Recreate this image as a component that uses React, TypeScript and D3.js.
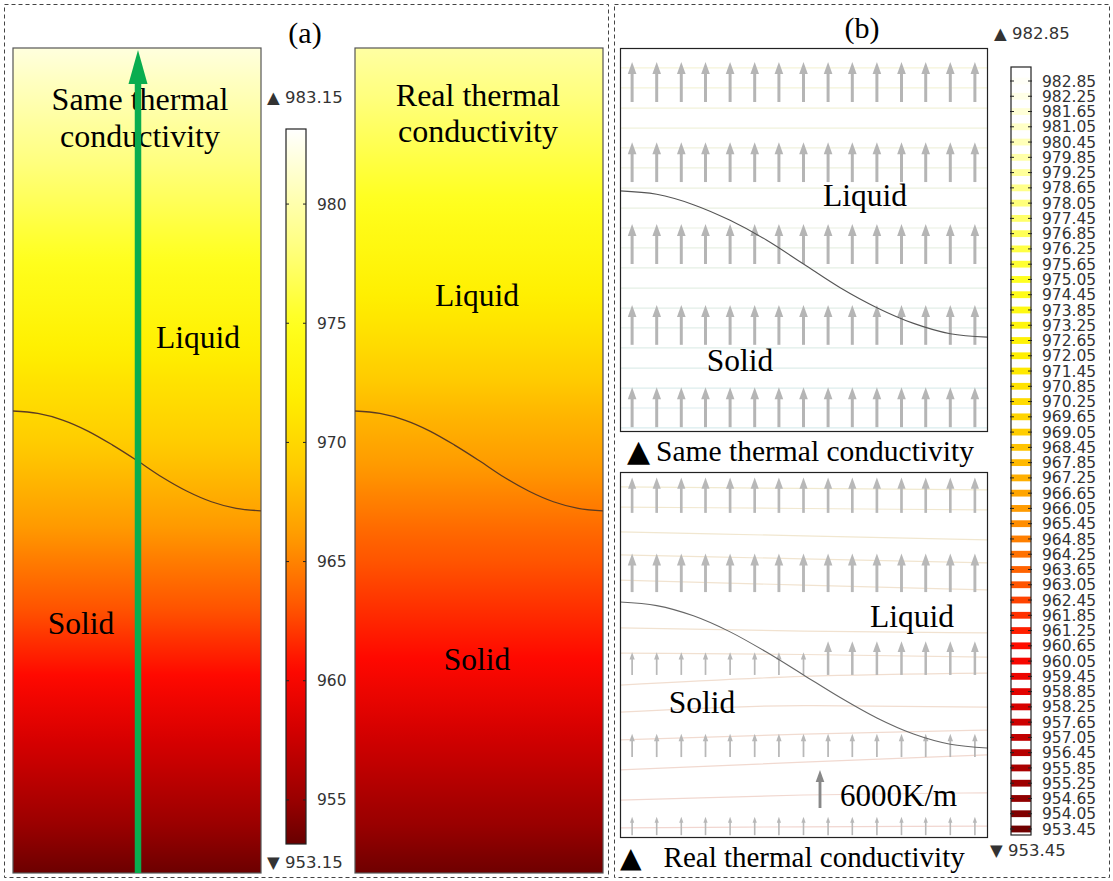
import React from "react";
import * as d3 from "d3";

// ---------- DATA ----------
// colour map (temperature K -> colour), white-yellow-red-darkred
const colormapTemps = [953.15, 955, 958, 960.5, 963, 966, 969, 972, 975, 978, 981, 983.15];
const colormapColors = ["#680000", "#990000", "#d40000", "#ff0800", "#ff5400", "#ff9a00", "#ffcc00", "#ffef00", "#ffff1e", "#ffff7a", "#ffffc6", "#ffffff"];

// vertical temperature profiles in panel (a): depth fraction (0 top, 1 bottom) -> K
const profileSameDepth = [0, 0.5, 1];
const profileSameTemp = [981.9, 968.4, 953.3];
const profileRealDepth = [0, 0.29, 0.44, 0.6, 0.74, 1];
const profileRealTemp = [979.6, 972.4, 967.8, 963.5, 960.5, 953.4];

// colour bar (a)
const barATicks = [955, 960, 965, 970, 975, 980];
const barAMin = 953.15;
const barAMax = 983.15;

// colour bar (b) contour levels
const barBLevels = [982.85, 982.25, 981.65, 981.05, 980.45, 979.85, 979.25, 978.65, 978.05, 977.45, 976.85, 976.25, 975.65, 975.05, 974.45, 973.85, 973.25, 972.65, 972.05, 971.45, 970.85, 970.25, 969.65, 969.05, 968.45, 967.85, 967.25, 966.65, 966.05, 965.45, 964.85, 964.25, 963.65, 963.05, 962.45, 961.85, 961.25, 960.65, 960.05, 959.45, 958.85, 958.25, 957.65, 957.05, 956.45, 955.85, 955.25, 954.65, 954.05, 953.45];
const barBMin = 953.45;
const barBMax = 982.85;

// solid/liquid interface (x fraction -> depth fraction)
const interfaceX = [0, 0.1, 0.2, 0.3, 0.4, 0.5, 0.6, 0.7, 0.8, 0.9, 1];
const interfaceA = [0.44, 0.443, 0.451, 0.464, 0.481, 0.5, 0.52, 0.537, 0.55, 0.558, 0.561];
const interfaceBTop = [0.373, 0.382, 0.409, 0.45, 0.502, 0.564, 0.626, 0.678, 0.719, 0.746, 0.755];
const interfaceBBottom = [0.356, 0.366, 0.394, 0.438, 0.494, 0.556, 0.618, 0.674, 0.718, 0.746, 0.756];

// arrow grid (x fractions) and row tail depths
const arrowCols = [0.033, 0.1, 0.167, 0.233, 0.3, 0.367, 0.433, 0.5, 0.567, 0.633, 0.7, 0.767, 0.833, 0.9, 0.967];
const arrowRowsTop = [0.141, 0.35, 0.564, 0.775, 0.99];
const arrowRowsBottom = [0.112, 0.329, 0.556, 0.781, 0.995];
// temperature gradient magnitude (K/m) per row / column
const gradTop = [
  [6300, 6300, 6300, 6300, 6300, 6300, 6300, 6300, 6300, 6300, 6300, 6300, 6300, 6300, 6300],
  [6300, 6300, 6300, 6300, 6300, 6300, 6300, 6300, 6300, 6300, 6300, 6300, 6300, 6300, 6300],
  [6300, 6300, 6300, 6300, 6300, 6300, 6300, 6300, 6300, 6300, 6300, 6300, 6300, 6300, 6300],
  [6300, 6300, 6300, 6300, 6300, 6300, 6300, 6300, 6300, 6300, 6300, 6300, 6300, 6300, 6300],
  [6300, 6300, 6300, 6300, 6300, 6300, 6300, 6300, 6300, 6300, 6300, 6300, 6300, 6300, 6300],
];
const gradBottom = [
  [5600, 5600, 5600, 5600, 5600, 5600, 5600, 5600, 5600, 5600, 5600, 5600, 5600, 5600, 5600],
  [6100, 6100, 6100, 6100, 6100, 6100, 6100, 6100, 6100, 6100, 6100, 6100, 6100, 6100, 6100],
  [3600, 3600, 3600, 3600, 3600, 3600, 3600, 3600, 5300, 5300, 5300, 5300, 5300, 5300, 5300],
  [3700, 3700, 3700, 3700, 3700, 3700, 3700, 3700, 3700, 3700, 3700, 3700, 3700, 3700, 3700],
  [2900, 2900, 2900, 2900, 2900, 2900, 2900, 2900, 2900, 2900, 2900, 2900, 2900, 2900, 2900],
];
const legendGrad = 6000;

// isotherm lines
const contoursTop = [0.052, 0.104, 0.157, 0.209, 0.261, 0.313, 0.366, 0.418, 0.47, 0.522, 0.574, 0.627, 0.679, 0.731, 0.783, 0.836, 0.888, 0.94, 0.992];
const contourBX = [0, 0.5, 1];
const contoursBottom = [
  [0.041, 0.045, 0.049],
  [0.096, 0.1, 0.104],
  [0.164, 0.175, 0.186],
  [0.227, 0.238, 0.249],
  [0.296, 0.31, 0.323],
  [0.427, 0.436, 0.441],
  [0.496, 0.5, 0.507],
  [0.584, 0.56, 0.551],
  [0.658, 0.64, 0.644],
  [0.734, 0.718, 0.707],
  [0.816, 0.795, 0.775],
  [0.899, 0.885, 0.879],
  [0.975, 0.972, 0.97],
];

// ---------- DRAWING ----------
const SERIF = "'Liberation Serif', 'Times New Roman', serif";
const SANS = "'DejaVu Sans', sans-serif";

type Box = { x0: number; x1: number; y0: number; y1: number };

function Arrow({ x, yTail, len, color }: { x: number; yTail: number; len: number; color: string }) {
  const head = Math.min(12, len * 0.32);
  const hw = head * 0.36;
  const sw = Math.max(1.6, Math.min(3, len * 0.075));
  const tip = yTail - len;
  return (
    <g>
      <line x1={x} x2={x} y1={yTail} y2={tip + head * 0.8} stroke={color} strokeWidth={sw} />
      <polygon points={`${x},${tip} ${x - hw},${tip + head} ${x + hw},${tip + head}`} fill={color} />
    </g>
  );
}

export default function App() {
  const cmap = d3
    .scaleLinear<string>()
    .domain(colormapTemps)
    .range(colormapColors)
    .interpolate(d3.interpolateRgb)
    .clamp(true);

  const a1: Box = { x0: 13, x1: 261, y0: 48, y1: 873 };
  const a2: Box = { x0: 355, x1: 603, y0: 48, y1: 873 };
  const bTop: Box = { x0: 620, x1: 987, y0: 48, y1: 431 };
  const bBot: Box = { x0: 620, x1: 987, y0: 472, y1: 837 };

  const xs = (b: Box) => d3.scaleLinear().domain([0, 1]).range([b.x0, b.x1]);
  const ys = (b: Box) => d3.scaleLinear().domain([0, 1]).range([b.y0, b.y1]);

  const gradStops = (depth: number[], temps: number[]) => {
    const t = d3.scaleLinear().domain(depth).range(temps);
    return d3.range(0, 1.0001, 0.02).map((f) => ({ off: f, col: cmap(t(f)) }));
  };

  const interfacePath = (b: Box, vals: number[]) => {
    const x = xs(b), y = ys(b);
    return d3.line<number>().x((_, i) => x(interfaceX[i])).y((v) => y(v)).curve(d3.curveMonotoneX)(vals) || "";
  };

  // colour bar scales
  const barA = { x0: 286, x1: 306 };
  const barAScale = d3.scaleLinear().domain([barAMin, barAMax]).range([844, 129]);
  const barAStops = d3.range(0, 1.0001, 0.02).map((f) => ({ off: f, col: cmap(barAMax - f * (barAMax - barAMin)) }));

  const barB = { x0: 1011, x1: 1031 };
  const barBScale = d3.scaleLinear().domain([barBMin, barBMax]).range([829, 81]);
  const cmapB = d3.scaleLinear().domain([barBMin, barBMax]).range([barAMin + 0.3, barAMax - 0.3]);

  const gradPx = d3.scaleLinear().domain([0, 6000]).range([0, 38]);

  const arrows = (b: Box, rows: number[], grads: number[][], color: string) => {
    const x = xs(b), y = ys(b);
    const out: JSX.Element[] = [];
    rows.forEach((r, i) =>
      arrowCols.forEach((c, j) => {
        out.push(<Arrow key={`${i}-${j}`} x={x(c)} yTail={y(r)} len={gradPx(grads[i][j])} color={color} />);
      })
    );
    return out;
  };

  const topContourColor = d3.interpolateRgb("#f5f3d8", "#d9ecee");
  const botContourColor = d3.interpolateRgb("#f1ead0", "#f1d6d0");

  const plotTitle = (x: number, y: number, lines: string[], dy: number) => (
    <text x={x} y={y} textAnchor="middle" fontFamily={SERIF} fontSize={32} fill="#000">
      {lines.map((l, i) => (
        <tspan key={i} x={x} dy={i === 0 ? 0 : dy}>
          {l}
        </tspan>
      ))}
    </text>
  );

  const label = (x: number, y: number, s: string) => (
    <text x={x} y={y} textAnchor="middle" fontFamily={SERIF} fontSize={31.5}>{s}</text>
  );

  return (
    <svg width={1113} height={881} style={{ position: "absolute", left: 0, top: 0, background: "#fff" }}>
      <defs>
        <linearGradient id="gSame" x1="0" y1="0" x2="0" y2="1">
          {gradStops(profileSameDepth, profileSameTemp).map((s, i) => (
            <stop key={i} offset={s.off} stopColor={s.col} />
          ))}
        </linearGradient>
        <linearGradient id="gReal" x1="0" y1="0" x2="0" y2="1">
          {gradStops(profileRealDepth, profileRealTemp).map((s, i) => (
            <stop key={i} offset={s.off} stopColor={s.col} />
          ))}
        </linearGradient>
        <linearGradient id="gBarA" x1="0" y1="0" x2="0" y2="1">
          {barAStops.map((s, i) => (
            <stop key={i} offset={s.off} stopColor={s.col} />
          ))}
        </linearGradient>
      </defs>

      {/* dashed frames */}
      <rect x={4.5} y={4.5} width={604} height={873} fill="none" stroke="#444" strokeDasharray="4 3" />
      <rect x={614.5} y={4.5} width={495} height={873} fill="none" stroke="#444" strokeDasharray="4 3" />

      {/* ---------- panel (a) ---------- */}
      <text x={305} y={43} textAnchor="middle" fontFamily={SERIF} fontSize={30}>(a)</text>

      {[{ b: a1, g: "gSame" }, { b: a2, g: "gReal" }].map(({ b, g }, i) => (
        <g key={i}>
          <rect x={b.x0} y={b.y0} width={b.x1 - b.x0} height={b.y1 - b.y0} fill={`url(#${g})`} stroke="#555" strokeWidth={1.2} />
          <path d={interfacePath(b, interfaceA)} fill="none" stroke="#5b3b22" strokeWidth={1.3} />
        </g>
      ))}

      {plotTitle(140, 110, ["Same thermal", "conductivity"], 37)}
      {label(198, 348, "Liquid")}
      {label(81, 634, "Solid")}

      {/* green arrow */}
      <line x1={138} x2={138} y1={873} y2={78} stroke="#0aad4f" strokeWidth={6.5} />
      <polygon points={`138,50 128.5,84 147.5,84`} fill="#0aad4f" />

      {plotTitle(478, 106, ["Real thermal", "conductivity"], 36)}
      {label(477, 306, "Liquid")}
      {label(477, 670, "Solid")}

      {/* colour bar (a) */}
      <rect x={barA.x0} y={barAScale(barAMax)} width={barA.x1 - barA.x0} height={barAScale(barAMin) - barAScale(barAMax)} fill="url(#gBarA)" stroke="#222" strokeWidth={1.2} />
      {barATicks.map((t) => (
        <g key={t}>
          <line x1={barA.x0} x2={barA.x0 + 3} y1={barAScale(t)} y2={barAScale(t)} stroke="#222" />
          <line x1={barA.x1 - 3} x2={barA.x1} y1={barAScale(t)} y2={barAScale(t)} stroke="#222" />
          <text x={317} y={barAScale(t)} dy="0.35em" fontFamily={SANS} fontSize={15.5} fill="#333">{t}</text>
        </g>
      ))}
      <text x={267} y={97} dy="0.35em" fontFamily={SANS} fontSize={16.5} fill="#333">▲ {barAMax.toFixed(2)}</text>
      <text x={267} y={862} dy="0.35em" fontFamily={SANS} fontSize={16.5} fill="#333">▼ {barAMin.toFixed(2)}</text>

      {/* ---------- panel (b) ---------- */}
      <text x={862} y={38} textAnchor="middle" fontFamily={SERIF} fontSize={30}>(b)</text>

      {/* top plot */}
      <g>
        <rect x={bTop.x0} y={bTop.y0} width={bTop.x1 - bTop.x0} height={bTop.y1 - bTop.y0} fill="#fff" />
        {contoursTop.map((c, i) => (
          <line key={i} x1={bTop.x0} x2={bTop.x1} y1={ys(bTop)(c)} y2={ys(bTop)(c)} stroke={topContourColor(i / (contoursTop.length - 1))} strokeWidth={1.2} />
        ))}
        {arrows(bTop, arrowRowsTop, gradTop, "#b5b5b5")}
        <path d={interfacePath(bTop, interfaceBTop)} fill="none" stroke="#555" strokeWidth={1.1} />
        <rect x={bTop.x0 + 0.5} y={bTop.y0 + 0.5} width={bTop.x1 - bTop.x0} height={bTop.y1 - bTop.y0} fill="none" stroke="#222" strokeWidth={1.2} />
        {label(865, 206, "Liquid")}
        {label(740, 371, "Solid")}
      </g>
      <text x={627} y={461} fontFamily={SERIF} fontSize={29.5}>
        <tspan fontFamily={SANS} fontSize={30}>▲</tspan>
        <tspan dx={6}>Same thermal conductivity</tspan>
      </text>

      {/* bottom plot */}
      <g>
        <rect x={bBot.x0} y={bBot.y0} width={bBot.x1 - bBot.x0} height={bBot.y1 - bBot.y0} fill="#fff" />
        {contoursBottom.map((c, i) => {
          const x = xs(bBot), y = ys(bBot);
          const p = d3.line<number>().x((_, k) => x(contourBX[k])).y((v) => y(v)).curve(d3.curveMonotoneX)(c) || "";
          return <path key={i} d={p} fill="none" stroke={botContourColor(i / (contoursBottom.length - 1))} strokeWidth={1.2} />;
        })}
        {arrows(bBot, arrowRowsBottom, gradBottom, "#b8b8b8")}
        <path d={interfacePath(bBot, interfaceBBottom)} fill="none" stroke="#666" strokeWidth={1.1} />
        <rect x={bBot.x0 + 0.5} y={bBot.y0 + 0.5} width={bBot.x1 - bBot.x0} height={bBot.y1 - bBot.y0} fill="none" stroke="#222" strokeWidth={1.2} />
        {label(912, 627, "Liquid")}
        {label(702, 713, "Solid")}
        <Arrow x={820} yTail={808} len={gradPx(legendGrad)} color="#888" />
        <text x={840} y={806} fontFamily={SERIF} fontSize={31}>{`${legendGrad}K/m`}</text>
      </g>
      <text x={620} y={867} fontFamily={SERIF} fontSize={29}>
        <tspan fontFamily={SANS} fontSize={28}>▲</tspan>
        <tspan dx={22}>Real thermal conductivity</tspan>
      </text>

      {/* colour bar (b) */}
      <rect x={barB.x0} y={67} width={barB.x1 - barB.x0} height={835 - 67} fill="#fff" />
      {barBLevels.map((lv) => (
        <rect key={`s${lv}`} x={barB.x0} y={barBScale(lv) - 3.4} width={barB.x1 - barB.x0} height={6.8} fill={cmap(cmapB(lv))} />
      ))}
      <rect x={barB.x0} y={67} width={barB.x1 - barB.x0} height={835 - 67} fill="none" stroke="#222" strokeWidth={1.2} />
      {barBLevels.map((lv) => (
        <g key={`t${lv}`}>
          <line x1={barB.x0 - 1} x2={barB.x0 + 3} y1={barBScale(lv)} y2={barBScale(lv)} stroke="#222" />
          <line x1={barB.x1 - 3} x2={barB.x1 + 1} y1={barBScale(lv)} y2={barBScale(lv)} stroke="#222" />
          <text x={1042} y={barBScale(lv)} dy="0.36em" fontFamily={SANS} fontSize={15.5} fill="#333">{lv.toFixed(2)}</text>
        </g>
      ))}
      <text x={994} y={33} dy="0.35em" fontFamily={SANS} fontSize={16.5} fill="#333">▲ {barBMax.toFixed(2)}</text>
      <text x={990} y={850} dy="0.35em" fontFamily={SANS} fontSize={16.5} fill="#333">▼ {barBMin.toFixed(2)}</text>
    </svg>
  );
}
